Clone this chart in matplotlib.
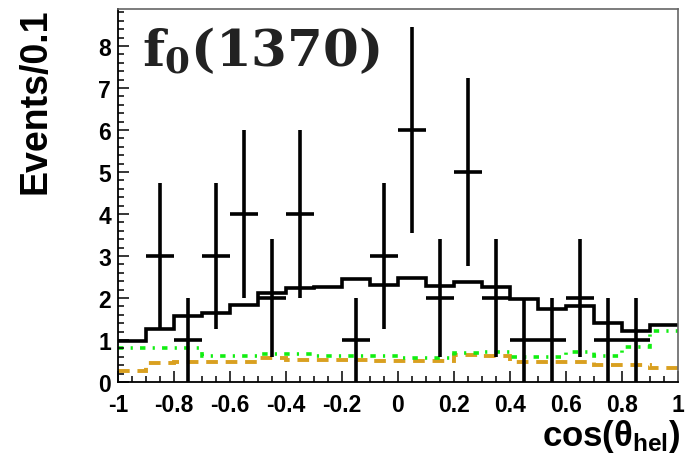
import numpy as np
import matplotlib
matplotlib.use('Agg')
import matplotlib.pyplot as plt

plt.rcParams['font.family'] = ['Liberation Sans', 'DejaVu Sans']
plt.rcParams['font.weight'] = 'bold'
plt.rcParams['mathtext.fontset'] = 'custom'
plt.rcParams['mathtext.bf'] = 'DejaVu Serif:bold'
plt.rcParams['mathtext.rm'] = 'Liberation Sans:bold'

# 20 bins of width 0.1 in cos(theta_hel)
edges = np.linspace(-1, 1, 21)

# data: only the non-empty bins
data_x = [-0.85, -0.75, -0.65, -0.55, -0.45, -0.35, -0.15, -0.05, 0.05,
          0.15, 0.25, 0.35, 0.45, 0.55, 0.65, 0.75, 0.85]
data_n = [3, 1, 3, 4, 2, 4, 1, 3, 6, 2, 5, 2, 1, 1, 2, 1, 1]

# fit components per bin
total = [0.97, 1.25, 1.58, 1.64, 1.83, 2.13, 2.23, 2.25, 2.45, 2.31,
         2.48, 2.29, 2.37, 2.25, 1.98, 1.74, 1.82, 1.40, 1.22, 1.36]
bkg_green = [0.81, 0.81, 0.81, 0.62, 0.62, 0.67, 0.67, 0.63, 0.63, 0.61,
             0.57, 0.56, 0.69, 0.72, 0.59, 0.59, 0.72, 0.63, 0.83, 1.21]
bkg_orange = [0.25, 0.45, 0.48, 0.47, 0.47, 0.56, 0.52, 0.52, 0.52, 0.51,
              0.49, 0.49, 0.64, 0.63, 0.48, 0.48, 0.47, 0.40, 0.40, 0.33]

fig = plt.figure(figsize=(6.95, 4.56), dpi=100)
ax = fig.add_axes([118/695, 73/456, 560/695, 373/456])

ax.stairs(bkg_orange, edges, baseline=None, color='#d9a020', lw=2.8,
          linestyle=(0, (3, 2)))
ax.stairs(bkg_green, edges, baseline=None, color='#11ee11', lw=2.6,
          linestyle=(0, (1.5, 2, 0.6, 2)))
ax.stairs(total, edges, baseline=None, color='black', lw=2.6)

ax.errorbar(data_x, data_n, yerr=np.sqrt(data_n), xerr=0.05, fmt='none',
            ecolor='black', elinewidth=2.6, capsize=0)

ax.set_xlim(-1, 1)
ax.set_ylim(0, 8.88)
ax.set_xticks(np.arange(-1, 1.01, 0.2))
ax.set_xticklabels(['-1', '-0.8', '-0.6', '-0.4', '-0.2', '0', '0.2',
                    '0.4', '0.6', '0.8', '1'])
ax.set_xticks(np.arange(-1, 1.001, 0.05), minor=True)
ax.set_yticks(range(0, 9))
ax.set_yticks(np.arange(0, 8.9, 0.2), minor=True)

ax.tick_params(which='both', direction='in', top=False, right=False,
               labelsize=16.5, width=1.1)
ax.tick_params(which='major', length=8)
ax.tick_params(which='minor', length=4)
ax.tick_params(axis='x', pad=8)
ax.tick_params(axis='y', pad=5)
for lab in ax.get_xticklabels() + ax.get_yticklabels():
    lab.set_fontweight('bold')

for side in ['left', 'bottom']:
    ax.spines[side].set_linewidth(1.3)
for side in ['top', 'right']:
    ax.spines[side].set_linewidth(1.2)
    ax.spines[side].set_color('#666666')

ax.text(0.043, 0.955, r'$\mathbf{f_{0}(1370)}$', transform=ax.transAxes,
        fontsize=37, color='#222222', ha='left', va='top')

fig.text(54/695, 447/456, 'Events/0.1', rotation=90, ha='right', va='top',
         fontsize=27, fontweight='bold')
fig.text(681/695, 1/456, r'cos($\mathrm{\theta_{hel}}$)', ha='right',
         va='bottom', fontsize=25, fontweight='bold')

fig.savefig('out.png', dpi=100)
